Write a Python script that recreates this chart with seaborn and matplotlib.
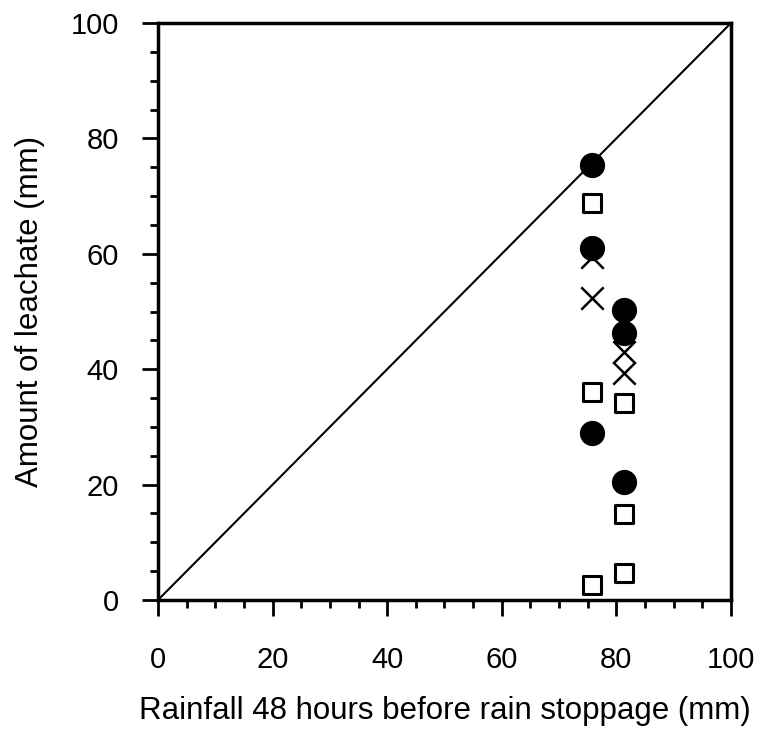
import matplotlib
matplotlib.use("Agg")
import matplotlib.pyplot as plt
import seaborn as sns
import pandas as pd
from matplotlib.ticker import MultipleLocator

# Data
circle_x = [75.7, 75.7, 75.7, 81.4, 81.4, 81.4]
circle_y = [75.4, 61.0, 29.0, 50.3, 46.2, 20.4]
square_x = [75.7, 75.7, 75.7, 81.4, 81.4, 81.4]
square_y = [68.8, 36.0, 2.6, 34.1, 14.9, 4.7]
cross_x = [75.7, 75.7, 81.4, 81.4, 81.4]
cross_y = [59.5, 52.3, 48.0, 43.0, 39.3]
line_x = [0, 100]
line_y = [0, 100]
ticks = [0, 20, 40, 60, 80, 100]

sns.set_theme(style="white")
plt.rcParams['font.family'] = ['Liberation Sans', 'DejaVu Sans']
plt.rcParams['text.color'] = 'black'
plt.rcParams['axes.labelcolor'] = 'black'
plt.rcParams['xtick.color'] = 'black'
plt.rcParams['ytick.color'] = 'black'

fig = plt.figure(figsize=(7.64, 7.38), dpi=100)
ax = fig.add_axes([0.2068, 0.187, 0.75, 0.7818])

sns.lineplot(x=line_x, y=line_y, ax=ax, color="black", linewidth=1.5)

dfc = pd.DataFrame({"x": cross_x, "y": cross_y})
dfs = pd.DataFrame({"x": square_x, "y": square_y})
dfo = pd.DataFrame({"x": circle_x, "y": circle_y})

sns.scatterplot(data=dfc, x="x", y="y", ax=ax, marker="x", s=260,
                color="black", linewidth=1.8, zorder=3)
sns.scatterplot(data=dfs, x="x", y="y", ax=ax, marker="s", s=170,
                facecolor="white", edgecolor="black", linewidth=2.2, zorder=4)
sns.scatterplot(data=dfo, x="x", y="y", ax=ax, marker="o", s=330,
                color="black", edgecolor="black", linewidth=0, zorder=5)

ax.set_xlim(0, 100)
ax.set_ylim(0, 100)
ax.set_xticks(ticks)
ax.set_yticks(ticks)
ax.xaxis.set_minor_locator(MultipleLocator(5))
ax.yaxis.set_minor_locator(MultipleLocator(5))
ax.tick_params(which="major", direction="out", length=11.3, width=2,
               labelsize=21, color="black", labelcolor="black",
               bottom=True, left=True)
ax.tick_params(axis="x", which="major", pad=22)
ax.tick_params(axis="y", which="major", pad=17)
ax.tick_params(which="minor", direction="out", length=5.5, width=2,
               color="black", bottom=True, left=True)
for s in ax.spines.values():
    s.set_visible(True)
    s.set_color("black")
    s.set_linewidth(2.5)

ax.set_xlabel("Rainfall 48 hours before rain stoppage (mm)", fontsize=22.5,
              labelpad=16, color="black")
ax.set_ylabel("Amount of leachate (mm)", fontsize=22.5, labelpad=18, color="black")
ax.grid(False)

fig.savefig("out.png", dpi=100, facecolor="white")
